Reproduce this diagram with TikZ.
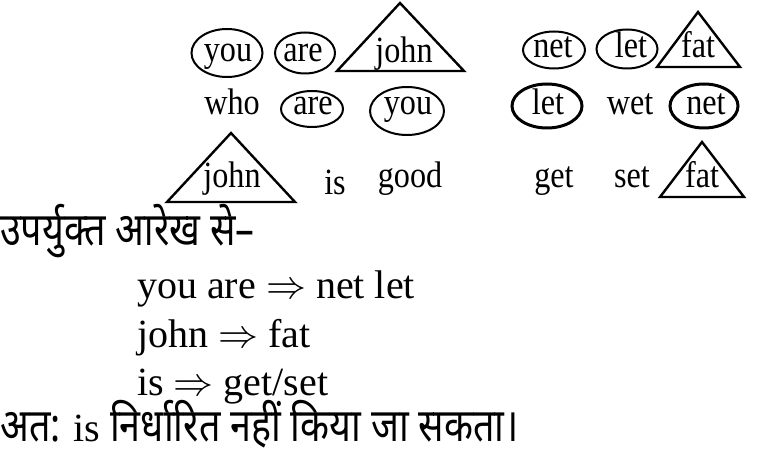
\RequirePackage{fix-cm}
\documentclass[tikz,border=0pt]{standalone}
\usepackage{fontspec}
\usetikzlibrary{shapes.geometric}
\setmainfont{Liberation Serif}
\newfontfamily\wordfont{Liberation Serif}[FakeStretch=0.87]
\newfontfamily\hindi[Script=Devanagari,FakeStretch=0.82]{Noto Sans}

\begin{document}
\begin{tikzpicture}[x=1pt, y=-1pt,
    word/.style={font=\wordfont\fontsize{37}{40}\selectfont, inner sep=0pt, anchor=base},
    ring/.style={draw, ellipse, line width=2pt, inner sep=0pt},
    boldring/.style={ring, line width=3pt},
    tri/.style={draw, line width=2.4pt, line join=miter},
    textline/.style={font=\fontsize{40}{46}\selectfont, inner sep=0pt, anchor=base west},
    hindiline/.style={font=\hindi\fontsize{46}{50}\selectfont, inner sep=0pt, anchor=base west}]
    \useasboundingbox (0,0) rectangle (775,454);

    % Left group, first row
    \node[ring, minimum width=71pt, minimum height=48pt] (ryouA) at (227,53) {};
    \node[word] (youA) at (228,62) {you};
    \node[ring, minimum width=60pt, minimum height=41pt] (rareA) at (305,53) {};
    \node[word] (areA) at (303,62) {are};
    \draw[tri] (400,3) -- (464,71) -- (337,71) -- cycle;
    \node[word] (johnA) at (404,63) {john};

    % Left group, second row
    \node[word] (who) at (232,115) {who};
    \node[ring, minimum width=62pt, minimum height=36pt] (rareB) at (312,109) {};
    \node[word] (areB) at (313,115) {are};
    \node[ring, minimum width=74pt, minimum height=48pt] (ryouB) at (407,111) {};
    \node[word] (youB) at (408,115) {you};

    % Left group, third row
    \draw[tri] (231,133) -- (295,202) -- (167,202) -- cycle;
    \node[word] (johnB) at (232,188) {john};
    \node[word] (is) at (335,195) {is};
    \node[word] (good) at (410,188) {good};

    % Right group, first row
    \node[ring, minimum width=62pt, minimum height=37pt] (rnetA) at (554,50) {};
    \node[word] (netA) at (553,58) {net};
    \node[ring, minimum width=61pt, minimum height=39pt] (rletA) at (627,49) {};
    \node[word] (letA) at (631,58) {let};
    \draw[tri] (698,12) -- (740,67) -- (657,67) -- cycle;
    \node[word] (fatA) at (698,58) {fat};

    % Right group, second row
    \node[boldring, minimum width=70pt, minimum height=44pt] (rletB) at (547,106) {};
    \node[word] (letB) at (548,115) {let};
    \node[word] (wet) at (630,115) {wet};
    \node[boldring, minimum width=68pt, minimum height=44pt] (rnetB) at (704,106) {};
    \node[word] (netB) at (706,115) {net};

    % Right group, third row
    \node[word] (get) at (554,188) {get};
    \node[word] (set) at (632,188) {set};
    \draw[tri] (702,142) -- (744,197) -- (660,197) -- cycle;
    \node[word] (fatB) at (702,188) {fat};

    % Conclusion
    \node[hindiline] (head) at (0,245) {उपर्युक्त आरेख से–};
    \node[textline] (mapA) at (137,298) {you are $\Rightarrow$ net let};
    \node[textline] (mapB) at (137,347) {john $\Rightarrow$ fat};
    \node[textline] (mapC) at (137,395) {is $\Rightarrow$ get/set};
    \node[hindiline] (result) at (0,441) {अत: {\rmfamily\fontsize{40}{46}\selectfont is} निर्धारित नहीं किया जा सकता।};
\end{tikzpicture}
\end{document}
